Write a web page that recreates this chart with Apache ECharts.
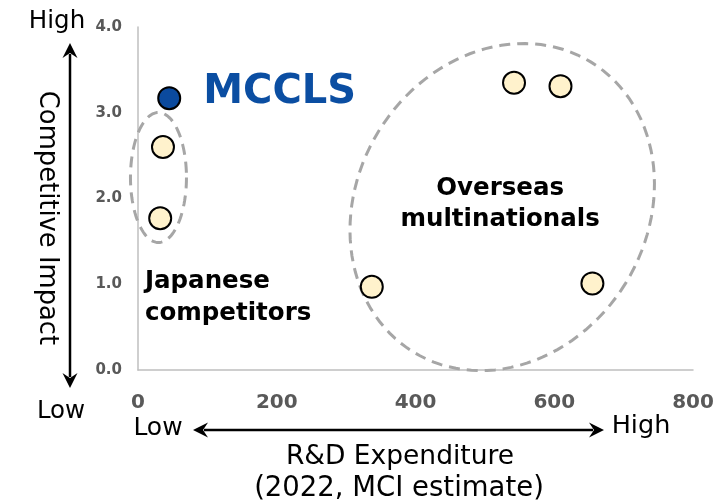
<!DOCTYPE html>
<html lang="en">

<head>
    <meta charset="UTF-8">
    <title>R&D vs Competitive Impact</title>
    <script src="https://cdn.jsdelivr.net/npm/echarts@6.0.0/dist/echarts.min.js"></script>
    <style>
        html, body { margin: 0; padding: 0; background: #fff; }
    </style>
</head>

<body>
    <div id="container" style="width: 717px; height: 502px"></div>
    <script>
        // data (R&D expenditure, competitive impact)
        var xTicks = [0, 200, 400, 600, 800];
        var yTicks = [0, 1, 2, 3, 4];

        var mcclsX = [45];
        var mcclsY = [3.17];

        var japaneseX = [36, 32];
        var japaneseY = [2.6, 1.77];

        var overseasX = [337, 542, 609, 655];
        var overseasY = [0.97, 3.35, 3.31, 1.01];

        // group outlines (data units: center x, center y)
        var japaneseRing = [29.5, 2.245];
        var overseasRing = [525, 1.9];

        var FONT = 'DejaVu Sans';

        function pairs(xs, ys) {
            var out = [];
            for (let i = 0; i < xs.length; i++) {
                out.push([xs[i], ys[i]]);
            }
            return out;
        }

        var chartDom = document.getElementById('container');
        var myChart = echarts.init(chartDom);

        myChart.setOption({
            animation: false,
            textStyle: { fontFamily: FONT },
            grid: {
                left: 138, right: 24, top: 27, bottom: 132,
                containLabel: false,
                outerBoundsMode: 'none'
            },
            xAxis: {
                type: 'value',
                min: xTicks[0],
                max: xTicks[xTicks.length - 1],
                interval: xTicks[1] - xTicks[0],
                splitLine: { show: false },
                axisTick: { show: false },
                axisLine: { show: true, lineStyle: { color: '#BFBFBF', width: 1.5 } },
                axisLabel: {
                    color: '#595959', fontWeight: 'bold', fontSize: 20, margin: 23,
                    fontFamily: FONT
                }
            },
            yAxis: {
                type: 'value',
                min: yTicks[0],
                max: yTicks[yTicks.length - 1],
                interval: yTicks[1] - yTicks[0],
                splitLine: { show: false },
                axisTick: { show: false },
                axisLine: { show: true, lineStyle: { color: '#BFBFBF', width: 1.5 } },
                axisLabel: {
                    color: '#595959', fontWeight: 'bold', fontSize: 15, margin: 16,
                    fontFamily: FONT,
                    formatter: function (v) { return v.toFixed(1); }
                }
            },
            series: [
                {
                    type: 'scatter',
                    data: pairs(japaneseX, japaneseY).concat(pairs(overseasX, overseasY)),
                    symbolSize: 22,
                    itemStyle: { color: '#FFF2CC', borderColor: '#000', borderWidth: 2, opacity: 1 },
                    z: 5
                },
                {
                    type: 'scatter',
                    data: pairs(mcclsX, mcclsY),
                    symbolSize: 22,
                    itemStyle: { color: '#0B4A9E', borderColor: '#000', borderWidth: 2, opacity: 1 },
                    label: {
                        show: true,
                        position: 'right',
                        distance: 22,
                        offset: [0, -6],
                        formatter: 'MCCLS',
                        color: '#0B4EA2',
                        fontSize: 40,
                        fontWeight: 'bold',
                        fontFamily: FONT
                    },
                    z: 6
                }
            ]
        });

        // dashed outline as a polygon around a center in pixels
        function ringPoints(cx, cy, rx, ry, rot) {
            var pts = [];
            for (let i = 0; i < 120; i++) {
                var t = i / 120 * Math.PI * 2;
                var px = rx * Math.cos(t), py = ry * Math.sin(t);
                pts.push([
                    cx + px * Math.cos(rot) - py * Math.sin(rot),
                    cy + px * Math.sin(rot) + py * Math.cos(rot)
                ]);
            }
            return pts;
        }

        function arrowHead(tx, ty, dx, dy) {
            // dx, dy: unit direction the arrow points to
            var len = 15, half = 7.5, notch = 5;
            var bx = tx - dx * len, by = ty - dy * len;
            var nx = -dy, ny = dx;
            return {
                type: 'polygon',
                shape: {
                    points: [
                        [tx, ty],
                        [bx + nx * half, by + ny * half],
                        [tx - dx * (len - notch), ty - dy * (len - notch)],
                        [bx - nx * half, by - ny * half]
                    ]
                },
                style: { fill: '#000' }
            };
        }

        function txt(x, y, text, opts) {
            return {
                type: 'text',
                x: x, y: y,
                rotation: opts.rotation || 0,
                style: {
                    text: text,
                    fill: opts.color || '#000',
                    font: (opts.weight || 'normal') + ' ' + opts.size + 'px "' + FONT + '"',
                    lineHeight: opts.lineHeight,
                    align: opts.align || 'center',
                    textAlign: opts.align || 'center',
                    verticalAlign: 'middle',
                    textVerticalAlign: 'middle'
                },
                z: 10
            };
        }

        var jp = myChart.convertToPixel({ gridIndex: 0 }, japaneseRing);
        var ov = myChart.convertToPixel({ gridIndex: 0 }, overseasRing);
        var jpText = myChart.convertToPixel({ gridIndex: 0 }, [10, 0.84]);
        var ovText = myChart.convertToPixel({ gridIndex: 0 }, [522, 1.94]);

        var ringStyle = { fill: 'none', stroke: '#A6A6A6', lineWidth: 3, lineDash: [11, 7] };

        myChart.setOption({
            graphic: [
                { type: 'polygon', shape: { points: ringPoints(jp[0], jp[1], 28, 65, 0) }, style: ringStyle, z: 1 },
                { type: 'polygon', shape: { points: ringPoints(ov[0], ov[1], 145, 170, 0.55) }, style: ringStyle, z: 1 },

                txt(jpText[0], jpText[1], 'Japanese\ncompetitors', { size: 24.5, weight: 'bold', align: 'left', lineHeight: 32 }),
                txt(ovText[0], ovText[1], 'Overseas\nmultinationals', { size: 24.5, weight: 'bold', lineHeight: 31 }),

                // vertical axis annotation
                { type: 'line', shape: { x1: 70, y1: 54, x2: 70, y2: 377 }, style: { stroke: '#000', lineWidth: 2.5 } },
                arrowHead(70, 43, 0, -1),
                arrowHead(70, 388, 0, 1),
                txt(57, 22, 'High', { size: 24.5 }),
                txt(61, 412, 'Low', { size: 24.5 }),
                txt(47, 218, 'Competitive Impact', { size: 25.8, rotation: -Math.PI / 2 }),

                // horizontal axis annotation
                { type: 'line', shape: { x1: 204, y1: 430, x2: 593, y2: 430 }, style: { stroke: '#000', lineWidth: 2.5 } },
                arrowHead(193, 430, -1, 0),
                arrowHead(604, 430, 1, 0),
                txt(158, 428, 'Low', { size: 25 }),
                txt(641, 426, 'High', { size: 25.5 }),
                txt(400, 457, 'R&D Expenditure', { size: 26.5 }),
                txt(399, 489, '(2022, MCI estimate)', { size: 27.5 })
            ]
        });
    </script>
</body>

</html>
